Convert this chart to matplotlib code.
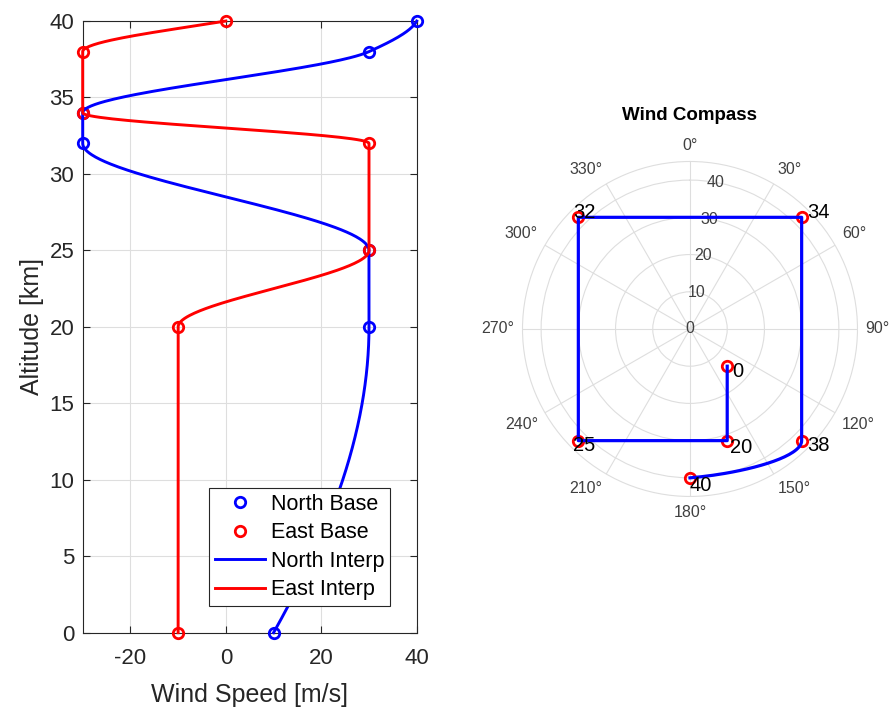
import numpy as np
import matplotlib
matplotlib.use('Agg')
import matplotlib.pyplot as plt

# base wind profile (altitude in km, wind in m/s)
alt_base = np.array([0, 20, 25, 32, 34, 38, 40], dtype=float)
north_base = np.array([10, 30, 30, -30, -30, 30, 40], dtype=float)
east_base = np.array([-10, -10, 30, 30, -30, -30, 0], dtype=float)
alt_labels = ['0', '20', '25', '32', '34', '38', '40']

wind_ticks = [-20, 0, 20, 40]
alt_ticks = [0, 5, 10, 15, 20, 25, 30, 35, 40]
r_ticks = [0, 10, 20, 30, 40]
r_max = 45
theta_ticks = list(range(0, 360, 30))

plt.rcParams['font.family'] = ['Liberation Sans', 'DejaVu Sans']
plt.rcParams['axes.unicode_minus'] = False
TXT = '#262626'
GRID = '#dedede'


def pchip(x, y, xi):
    # shape preserving piecewise cubic (same as matlab pchip)
    h = np.diff(x)
    d = np.diff(y) / h
    n = len(x)
    m = np.zeros(n)
    for k in range(1, n - 1):
        if d[k - 1] * d[k] > 0:
            w1 = 2 * h[k] + h[k - 1]
            w2 = h[k] + 2 * h[k - 1]
            m[k] = (w1 + w2) / (w1 / d[k - 1] + w2 / d[k])

    def end_slope(h0, h1, d0, d1):
        s = ((2 * h0 + h1) * d0 - h0 * d1) / (h0 + h1)
        if np.sign(s) != np.sign(d0):
            s = 0.0
        elif np.sign(d0) != np.sign(d1) and abs(s) > abs(3 * d0):
            s = 3 * d0
        return s

    m[0] = end_slope(h[0], h[1], d[0], d[1])
    m[-1] = end_slope(h[-1], h[-2], d[-1], d[-2])

    idx = np.clip(np.searchsorted(x, xi, side='right') - 1, 0, n - 2)
    t = (xi - x[idx]) / h[idx]
    h00 = 2 * t**3 - 3 * t**2 + 1
    h10 = t**3 - 2 * t**2 + t
    h01 = -2 * t**3 + 3 * t**2
    h11 = t**3 - t**2
    return h00 * y[idx] + h10 * h[idx] * m[idx] + h01 * y[idx + 1] + h11 * h[idx] * m[idx + 1]


alt = np.linspace(0, 40, 801)
north = pchip(alt_base, north_base, alt)
east = pchip(alt_base, east_base, alt)

fig = plt.figure(figsize=(8.91, 7.13), dpi=100)

# ---- altitude profile ----
ax = fig.add_axes([0.0928, 0.1126, 0.3749, 0.8579])
ax.plot(north_base, alt_base, 'o', color='blue', mfc='none', ms=7.5, mew=2,
        label='North Base', clip_on=False, zorder=3)
ax.plot(east_base, alt_base, 'o', color='red', mfc='none', ms=7.5, mew=2,
        label='East Base', clip_on=False, zorder=3)
ax.plot(north, alt, '-', color='blue', lw=2.1, label='North Interp', clip_on=False, zorder=4)
ax.plot(east, alt, '-', color='red', lw=2.1, label='East Interp', clip_on=False, zorder=4)
ax.set_xlim(-30, 40)
ax.set_ylim(0, 40)
ax.set_xticks(wind_ticks)
ax.set_yticks(alt_ticks)
ax.grid(True, color=GRID, lw=0.8)
ax.set_axisbelow(True)
ax.tick_params(direction='in', top=True, right=True, length=5, width=0.8,
               color=TXT, labelcolor=TXT, labelsize=16)
ax.tick_params(axis='x', pad=11)
ax.tick_params(axis='y', pad=6)
for s in ax.spines.values():
    s.set_color(TXT)
    s.set_linewidth(0.8)
ax.set_xlabel('Wind Speed [m/s]', fontsize=18, color=TXT, labelpad=10)
ax.set_ylabel('Altitude [km]', fontsize=18, color=TXT, labelpad=4)
leg = ax.legend(loc='lower right', fontsize=15.5, frameon=True, fancybox=False,
                borderaxespad=1.25, handlelength=2.35, handletextpad=0.26,
                borderpad=0.25, labelspacing=0.35, framealpha=1)
leg.get_frame().set_edgecolor(TXT)
leg.get_frame().set_linewidth(0.8)
for t in leg.get_texts():
    t.set_color('black')

# ---- wind compass ----
x = -east
y = -north
theta = np.arctan2(x, y)
rho = np.hypot(x, y)
theta_b = np.arctan2(-east_base, -north_base)
rho_b = np.hypot(east_base, north_base)

pax = fig.add_axes([0.5864, 0.3037, 0.376, 0.4698], projection='polar')
pax.set_theta_zero_location('N')
pax.set_theta_direction(-1)
pax.plot(theta_b, rho_b, 'o', color='red', mfc='none', ms=7.5, mew=2, zorder=3)
pax.plot(theta, rho, '-', color='blue', lw=2.3, zorder=4)
for tb, rb, lab in zip(theta_b, rho_b, alt_labels):
    pax.text(tb, rb + 2, lab, ha='left', va='center', fontsize=14.5, color='black', zorder=5)
pax.set_rlim(0, r_max)
pax.set_rticks(r_ticks)
pax.set_yticklabels([])
for r in r_ticks:
    pax.text(np.radians(10), r, str(r), ha='center', va='center', fontsize=11.5,
             color='#404040', zorder=2)
pax.set_thetagrids(theta_ticks, labels=[''] * len(theta_ticks))
# angle labels: anchored just outside the rim, aligned by their nearest edge
for d in theta_ticks:
    sx, cy = np.sin(np.radians(d)), np.cos(np.radians(d))
    ha = 'center' if abs(sx) < 0.01 else ('left' if sx > 0 else 'right')
    va = 'center' if abs(cy) < 0.01 else ('bottom' if cy > 0 else 'top')
    pax.text(np.radians(d), r_max * 1.048, f'{d}°', ha=ha, va=va,
             fontsize=11.5, color='#404040', clip_on=False)
pax.grid(True, color=GRID, lw=0.8)
pax.spines['polar'].set_color(GRID)
pax.spines['polar'].set_linewidth(0.8)
fig.text(690 / 891, 1 - 116 / 713, 'Wind Compass', ha='center', va='center',
         fontsize=13.5, fontweight='bold', color='black')

fig.savefig('out.png', dpi=100)
